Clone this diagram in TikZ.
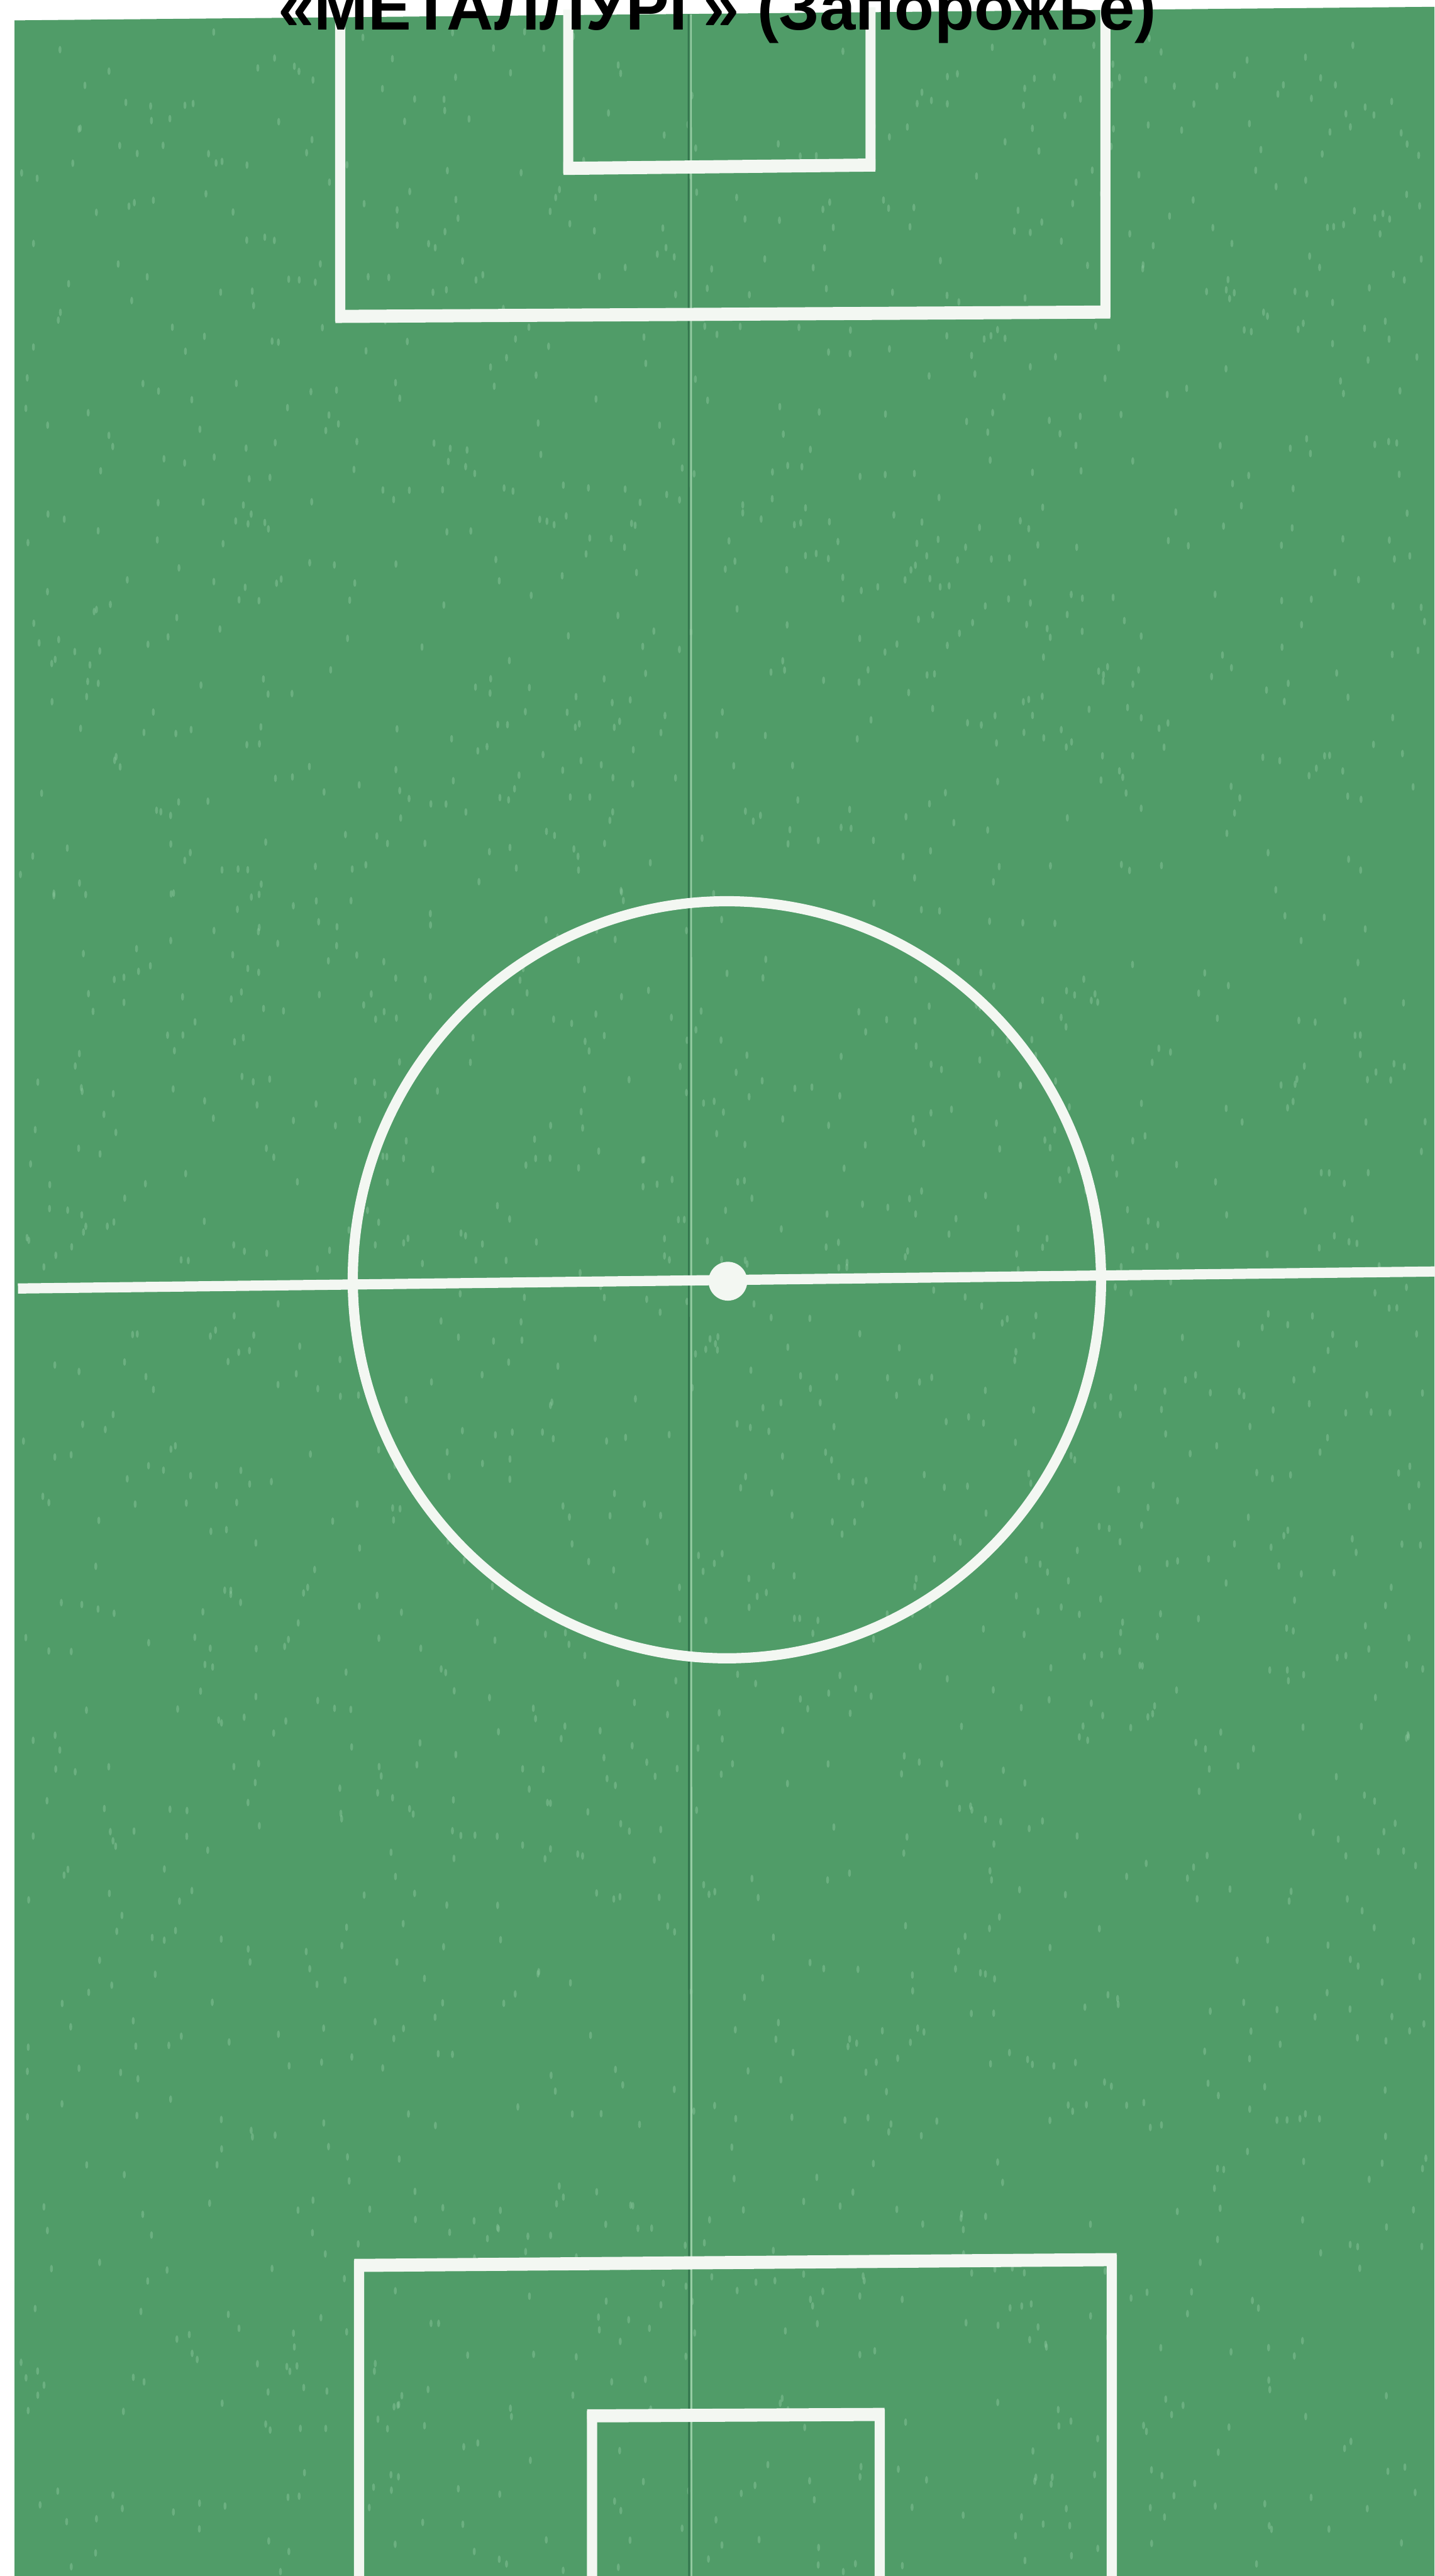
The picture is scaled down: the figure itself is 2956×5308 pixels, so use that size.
\documentclass[tikz,border=0pt]{standalone}
\usepackage{fontspec}
\setmainfont{Liberation Sans}
\usetikzlibrary{positioning, calc}

\definecolor{grass}{RGB}{80,156,104}
\definecolor{grain}{RGB}{140,200,158}
\definecolor{chalk}{RGB}{243,247,242}
\definecolor{crease}{RGB}{52,118,78}
\definecolor{creaselight}{RGB}{150,204,164}

\begin{document}
\begin{tikzpicture}[
    x=0.01cm, y=-0.01cm,
    pitchline/.style={draw=chalk, line width=0.21cm, line join=miter},
    boxedge/.style={draw=chalk, line width=0.27cm},
    foldline/.style={draw=crease, line width=0.035cm},
    foldlight/.style={draw=creaselight, line width=0.035cm},
    title/.style={font=\bfseries\fontsize{38}{38}\selectfont, text=black,
                  anchor=base, inner sep=0pt}
  ]
  \useasboundingbox (0,0) rectangle (2956,5308);
  \fill[white] (0,0) rectangle (2956,5308);
  % the field
  \fill[grass] (30,42) -- (2956,14) -- (2956,5308) -- (30,5308) -- cycle;
  % grain of the paper
  \pgfmathsetseed{1971}
  \foreach \i in {1,...,2200}{
    \pgfmathsetmacro{\gx}{40+2900*rnd}
    \pgfmathsetmacro{\gy}{60+5240*rnd}
    \fill[grain, opacity=0.45] (\gx,\gy) ellipse [x radius=3, y radius=8];
  }

  % paper fold
  \draw[foldline] (1419,30) -- (1420,5308);
  \draw[foldlight] (1424,30) -- (1425,5308);

  % top penalty area and goal area
  \draw[pitchline] (701,20) -- (701,652) -- (2278,643) -- (2278,15);
  \draw[boxedge] (691,652) -- (2288,643);
  \draw[pitchline] (1171,20) -- (1171,347) -- (1794,340) -- (1794,15);
  \draw[boxedge] (1161,347) -- (1804,340);

  % half-way line, centre circle, centre spot
  \coordinate (kickoff) at (1498,2637);
  \draw[pitchline] (37,2655) -- (2956,2620);
  \draw[pitchline] (kickoff) ellipse [x radius=771, y radius=780];
  \fill[chalk] (1500,2640) circle [radius=40];

  % bottom penalty area and goal area
  \draw[pitchline] (740,5330) -- (740,4668) -- (2291,4656) -- (2291,5330);
  \draw[boxedge] (730,4668) -- (2301,4656);
  \draw[pitchline] (1220,5330) -- (1220,4978) -- (1813,4975) -- (1813,5330);
  \draw[boxedge] (1210,4978) -- (1823,4975);

  % heading, cut by the top edge
  \node[title] (club) at (1478,62) {«МЕТАЛЛУРГ» (Запорожье)};
\end{tikzpicture}
\end{document}
